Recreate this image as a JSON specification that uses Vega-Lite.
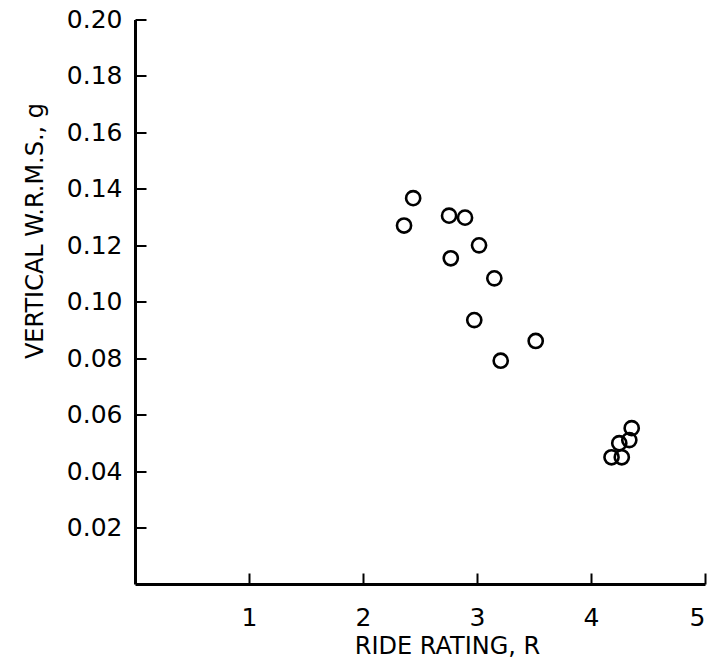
{
  "$schema": "https://vega.github.io/schema/vega-lite/v6.json",
  "width": 570,
  "height": 564.5,
  "autosize": "none",
  "padding": {"left": 135, "top": 19.5, "right": 10, "bottom": 79},
  "background": "white",
  "config": {
    "view": {"stroke": null},
    "axis": {
      "grid": false,
      "domainColor": "black",
      "domainWidth": 3,
      "tickColor": "black",
      "tickWidth": 2,
      "labelColor": "black",
      "titleColor": "black",
      "labelFont": "DejaVu Sans",
      "titleFont": "DejaVu Sans",
      "labelFontSize": 25,
      "titleFontSize": 24,
      "titleFontWeight": "normal"
    }
  },
  "data": {
    "values": [
      {"R": 2.36, "g": 0.127},
      {"R": 2.44, "g": 0.1367},
      {"R": 2.755, "g": 0.1305},
      {"R": 2.895, "g": 0.1298},
      {"R": 3.018, "g": 0.12},
      {"R": 2.77, "g": 0.1154},
      {"R": 3.152, "g": 0.1083},
      {"R": 2.976, "g": 0.0935},
      {"R": 3.515, "g": 0.0861},
      {"R": 3.208, "g": 0.0791},
      {"R": 4.357, "g": 0.0552},
      {"R": 4.336, "g": 0.051},
      {"R": 4.248, "g": 0.0499},
      {"R": 4.18, "g": 0.0449},
      {"R": 4.27, "g": 0.0449}
    ]
  },
  "mark": {"type": "point", "shape": "circle", "filled": false, "size": 200, "strokeWidth": 2.6, "color": "black", "opacity": 1},
  "encoding": {
    "x": {
      "field": "R",
      "type": "quantitative",
      "scale": {"domain": [0, 5], "nice": false},
      "axis": {
        "values": [1, 2, 3, 4, 5],
        "tickSize": -11,
        "labelPadding": 32,
        "title": "RIDE RATING, R",
        "titleX": 312,
        "titleY": 50
      }
    },
    "y": {
      "field": "g",
      "type": "quantitative",
      "scale": {"domain": [0, 0.2], "nice": false},
      "axis": {
        "values": [0.02, 0.04, 0.06, 0.08, 0.1, 0.12, 0.14, 0.16, 0.18, 0.2],
        "format": ".2f",
        "tickSize": -11,
        "labelPadding": 24,
        "title": "VERTICAL W.R.M.S., g",
        "titleX": -88,
        "titleY": 211
      }
    }
  }
}
